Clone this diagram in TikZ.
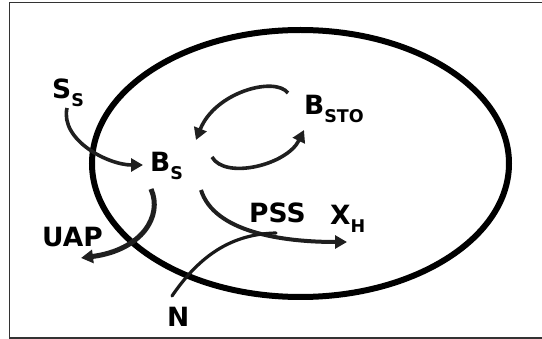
\documentclass[tikz,border=0pt]{standalone}
\usepackage{fontspec}
\setmainfont{DejaVu Sans}
\usetikzlibrary{arrows.meta,shapes.geometric}
\newcommand{\mainsz}{\fontsize{26.5}{30}\selectfont}
\newcommand{\subtxt}[1]{\raisebox{-7.5pt}{\fontsize{17.5}{19}\selectfont #1}}
\tikzset{
  lbl/.style={anchor=base west, inner sep=0pt, font=\mainsz\bfseries, text=black},
  flow/.style={line width=3.6pt, draw=black!88, line cap=butt,
    -{Triangle[length=12pt,width=13pt]}},
  plain/.style={line width=3.2pt, draw=black!90, line cap=round},
  cell/.style={ellipse, line width=6pt, draw=black, inner sep=0pt,
    minimum width=417pt, minimum height=267pt},
  frame/.style={line width=1.6pt, draw=black!80}
}
\begin{document}
\begin{tikzpicture}[x=1pt,y=-1pt]
\useasboundingbox (0,0) rectangle (542,339);
% frame (right side lies beyond the picture's edge)
\draw[frame] (560,2.5) -- (9.5,2.5) -- (9.5,338) -- (560,338);
% cell
\node[cell] (cellc) at (300.5,163.5) {};
% labels
\node[lbl] (Ss)   at (52,99)   {S\subtxt{S}};
\node[lbl] (Bs)   at (150,172) {B\subtxt{S}};
\node[lbl] (Bsto) at (304,115) {B\subtxt{STO}};
\node[lbl] (PSS)  at (249,223) {PSS};
\node[lbl] (XH)   at (330,225) {X\subtxt{H}};
\node[lbl] (UAP)  at (42,247)  {UAP};
\node[lbl] (N)    at (167,327) {N};
% connector end points
\coordinate (ssA)  at (67,108);
\coordinate (ssB)  at (143,165);
\coordinate (toA)  at (288,93);
\coordinate (toB)  at (196,140);
\coordinate (frA)  at (212,157);
\coordinate (frB)  at (304,130);
\coordinate (grA)  at (201,190);
\coordinate (grB)  at (347,242);
\coordinate (nA)   at (172,296);
\coordinate (nB)   at (276,233);
\coordinate (uaA)  at (151,189);
\coordinate (uaB)  at (81,258);
% connectors
\draw[flow] (ssA) .. controls (60,140) and (108,165) .. (ssB);
\draw[flow] (toA) .. controls (275,76) and (215,92) .. (toB);
\draw[flow] (frA) .. controls (225,180) and (287,165) .. (frB);
\draw[flow, line width=4pt] (grA) .. controls (214,232) and (282,242) .. (grB);
\draw[plain] (nA) .. controls (200,255) and (232,234) .. (nB);
\draw[flow, line width=5pt] (uaA) .. controls (163,216) and (142,250) .. (uaB);
\end{tikzpicture}
\end{document}
